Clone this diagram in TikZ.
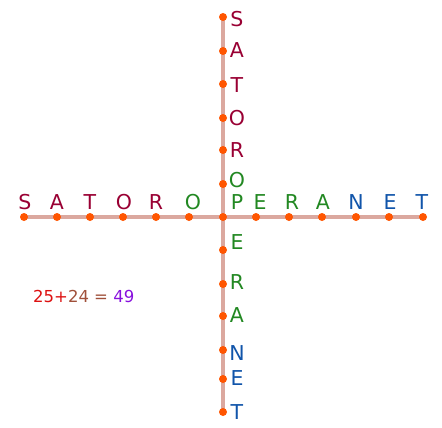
\documentclass[tikz,border=0pt]{standalone}
\usepackage{fontspec}
\setmainfont{DejaVu Sans}
\definecolor{linec}{HTML}{DBA89F}
\definecolor{dotc}{HTML}{FF5500}
\definecolor{redc}{HTML}{990033}
\definecolor{greenc}{HTML}{228822}
\definecolor{bluec}{HTML}{1155AA}
\definecolor{eqred}{HTML}{DD1111}
\definecolor{eqbrown}{HTML}{A0503A}
\definecolor{eqpurple}{HTML}{8811DD}
\begin{document}
\begin{tikzpicture}[x=1pt,y=-1pt,
  dot/.style={circle,fill=dotc,inner sep=0pt,minimum size=8pt},
  lt/.style={font=\fontsize{20.5}{20.5}\selectfont,inner sep=0pt,anchor=center},
  axis/.style={draw=linec,line width=3.6pt}]
\useasboundingbox (0,0) rectangle (442,428);
% horizontal dots
\foreach \i/\x in {h1/24,h2/57,h3/90,h4/123,h5/156,h6/189,h8/256,h9/289,h10/322,h11/356,h12/389,h13/423}
  \coordinate (\i) at (\x,217);
\coordinate (c) at (223,217);
\foreach \i/\y in {v1/17,v2/51,v3/84,v4/118,v5/150,v6/184,v8/250,v9/284,v10/316,v11/350,v12/379,v13/412}
  \coordinate (\i) at (223,\y);
\draw[axis] (h1) -- (h13);
\draw[axis] (v1) -- (v13);
\foreach \i in {h1,h2,h3,h4,h5,h6,h8,h9,h10,h11,h12,h13,v1,v2,v3,v4,v5,v6,v8,v9,v10,v11,v12,v13,c}
  \node[dot] at (\i) {};
% horizontal letters
\node[lt,text=redc] (s1) at (25,202) {S};
\node[lt,text=redc] (a1) at (57,202) {A};
\node[lt,text=redc] (t1) at (90,202) {T};
\node[lt,text=redc] (o1) at (124,202) {O};
\node[lt,text=redc] (r1) at (156,202) {R};
\node[lt,text=greenc] (o2) at (193,202) {O};
\node[lt,text=greenc] (p) at (237,202) {P};
\node[lt,text=greenc] (e1) at (260,202) {E};
\node[lt,text=greenc] (r2) at (292,202) {R};
\node[lt,text=greenc] (a2) at (323,202) {A};
\node[lt,text=bluec] (n1) at (356,202) {N};
\node[lt,text=bluec] (e2) at (390,202) {E};
\node[lt,text=bluec] (t2) at (422,202) {T};
% vertical letters
\node[lt,text=redc] (vs) at (237,19) {S};
\node[lt,text=redc] (va) at (237,50) {A};
\node[lt,text=redc] (vt) at (237,85) {T};
\node[lt,text=redc] (vo) at (237,118) {O};
\node[lt,text=redc] (vr) at (237,150) {R};
\node[lt,text=greenc] (vo2) at (237,180) {O};
\node[lt,text=greenc] (ve) at (237,242) {E};
\node[lt,text=greenc] (vr2) at (237,282) {R};
\node[lt,text=greenc] (va2) at (237,315) {A};
\node[lt,text=bluec] (vn) at (237,353) {N};
\node[lt,text=bluec] (ve2) at (237,378) {E};
\node[lt,text=bluec] (vt2) at (237,412) {T};
% equation
\node[font=\fontsize{16.5}{16.5}\selectfont,inner sep=0pt,anchor=west] (eq) at (33,296)
  {\textcolor{eqred}{25+}\textcolor{eqbrown}{24 = }\textcolor{eqpurple}{49}};
\end{tikzpicture}
\end{document}
